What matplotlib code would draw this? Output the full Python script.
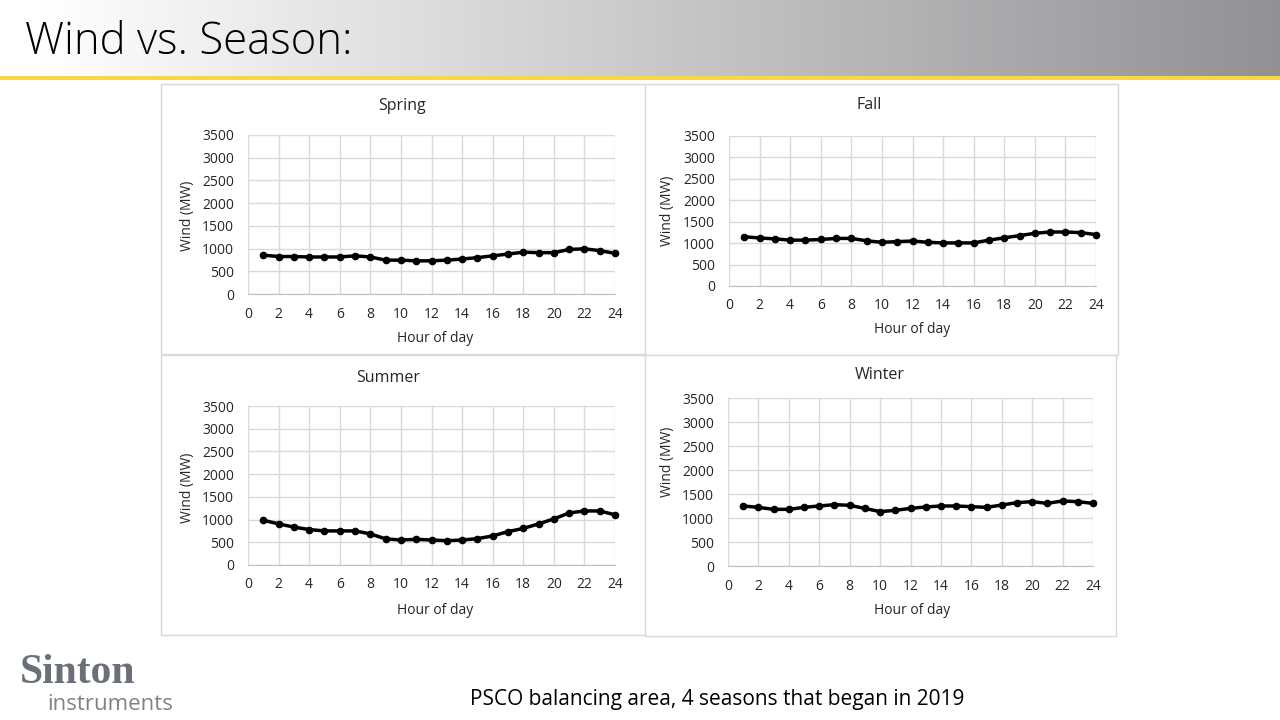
import matplotlib
matplotlib.use("Agg")
import matplotlib.pyplot as plt
from matplotlib.patches import Rectangle
import numpy as np

hours = list(range(1, 25))
spring = [855, 825, 825, 815, 815, 815, 840, 815, 745, 745, 730, 730,
          745, 770, 800, 840, 880, 920, 910, 910, 980, 995, 955, 895]
fall = [1150, 1120, 1100, 1070, 1070, 1085, 1110, 1110, 1055, 1020, 1035, 1050,
        1020, 1005, 1005, 1005, 1070, 1125, 1175, 1230, 1260, 1260, 1245, 1200]
summer = [985, 905, 835, 780, 750, 750, 750, 685, 575, 550, 565, 550,
          535, 550, 580, 640, 735, 805, 905, 1015, 1145, 1190, 1190, 1105]
winter = [1250, 1222, 1180, 1180, 1222, 1250, 1278, 1264, 1200, 1132, 1160, 1200,
          1230, 1250, 1250, 1236, 1222, 1270, 1320, 1340, 1305, 1355, 1340, 1305]

x_ticks = list(range(0, 25, 2))
y_ticks = list(range(0, 3501, 500))
slide_title = "Wind vs. Season:"
footer = "PSCO balancing area, 4 seasons that began in 2019"
x_label = "Hour of day"
y_label = "Wind (MW)"

W, H = 1280, 720
fig = plt.figure(figsize=(12.8, 7.2), dpi=100)
fig.patch.set_facecolor("white")
FONT = ["Open Sans", "DejaVu Sans"]
plt.rcParams['font.family'] = FONT

def fx(px):
    return px / W

def fy(py):
    return 1 - py / H

# background axes for panel boxes
bg = fig.add_axes([0, 0, 1, 1], zorder=-5)
bg.set_xlim(0, W)
bg.set_ylim(H, 0)
bg.set_axis_off()

# header gradient
hax = fig.add_axes([0, fy(76), 1, 76 / H], zorder=-4)
grad = np.linspace(0, 1, 512)
grad = np.clip((grad - 0.03) / 0.97, 0, 1)
top = np.array([1.0, 1.0, 1.0])
end = np.array([0.57, 0.57, 0.58])
cols = top[None, :] * (1 - grad[:, None]) + end[None, :] * grad[:, None]
hax.imshow(cols[None, :, :], aspect="auto", extent=[0, 1, 0, 1])
hax.set_axis_off()
bg.add_patch(Rectangle((0, 76), W, 4, facecolor="#F7D744", edgecolor="none"))
fig.text(fx(25), fy(43), slide_title, fontsize=31.5, family=["Open Sans", "DejaVu Sans"],
         fontweight="light", va="center", ha="left", color="black")

panels = [
    dict(name="Spring", data=spring, box=(161, 84, 645, 354), plot=(248, 135, 615, 294),
         title=(402, 106), ylab=(188, 216), xlab=(435, 339)),
    dict(name="Fall", data=fall, box=(645, 84, 1118, 355), plot=(729, 136, 1096, 286),
         title=(869, 105), ylab=(668, 211), xlab=(912, 330)),
    dict(name="Summer", data=summer, box=(161, 355, 645, 635), plot=(248, 406, 615, 565),
         title=(388, 378), ylab=(188, 488), xlab=(435, 610)),
    dict(name="Winter", data=winter, box=(645, 355, 1116, 636), plot=(728, 398, 1093, 566),
         title=(880, 375), ylab=(668, 462), xlab=(912, 610)),
]

grid_c = "#d9d9d9"
text_c = "#262626"
for p in panels:
    bx0, by0, bx1, by1 = p["box"]
    bg.add_patch(Rectangle((bx0, by0), bx1 - bx0, by1 - by0, facecolor="white",
                           edgecolor="#d9d9d9", linewidth=1.0))
    x0, y0, x1, y1 = p["plot"]
    ax = fig.add_axes([fx(x0), fy(y1), (x1 - x0) / W, (y1 - y0) / H])
    ax.plot(hours, p["data"], color="black", linewidth=2.5, marker="o", markersize=4.5,
            zorder=3, clip_on=False)
    ax.set_xlim(0, 24)
    ax.set_ylim(0, 3500)
    ax.set_xticks(x_ticks)
    ax.set_yticks(y_ticks)
    ax.grid(True, color=grid_c, linewidth=1.0)
    ax.set_axisbelow(True)
    for s in ["top", "right", "left"]:
        ax.spines[s].set_visible(False)
    ax.spines["bottom"].set_color("#bfbfbf")
    ax.tick_params(length=0, labelsize=10, colors=text_c)
    ax.tick_params(axis="x", pad=9)
    ax.tick_params(axis="y", pad=10)
    ax.set_facecolor("white")
    fig.text(fx(p["title"][0]), fy(p["title"][1]), p["name"], fontsize=11.5,
             ha="center", va="center", color=text_c)
    fig.text(fx(p["ylab"][0]), fy(p["ylab"][1]), y_label, fontsize=10, rotation=90,
             ha="center", va="center", color=text_c)
    fig.text(fx(p["xlab"][0]), fy(p["xlab"][1]), x_label, fontsize=10,
             ha="center", va="center", color=text_c)

# footer
fig.text(fx(717), fy(700), footer, fontsize=15, ha="center", va="center", color="black")

# logo
fig.text(fx(20), fy(673), "Sinton", fontsize=30, family=["Liberation Serif", "DejaVu Serif"],
         ha="left", va="center", color="#6b6f78", fontweight="bold")
fig.text(fx(47), fy(705), "instruments", fontsize=16, ha="left", va="center",
         color="#808285")

fig.savefig("out.png", dpi=100)
